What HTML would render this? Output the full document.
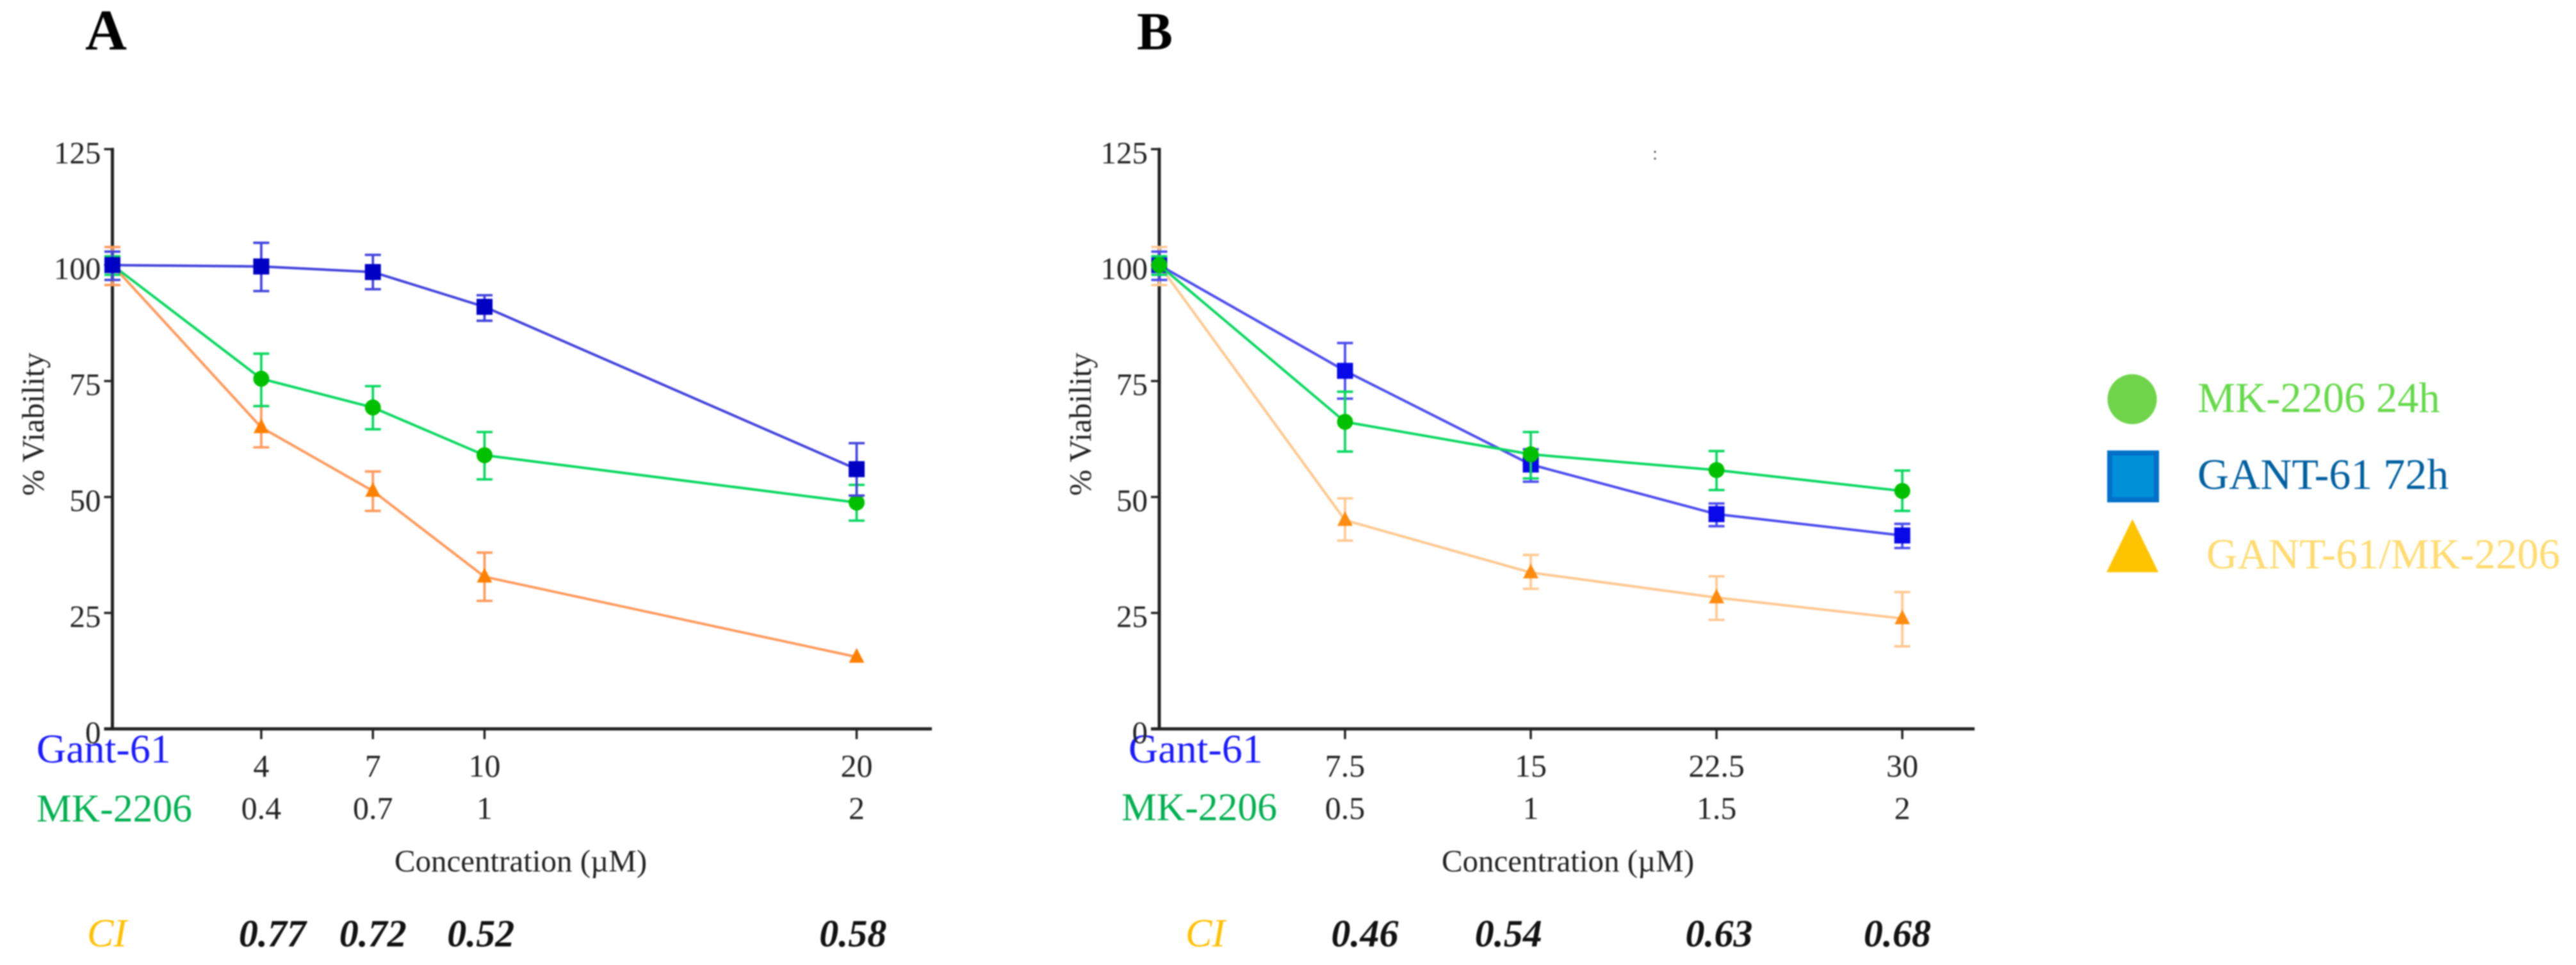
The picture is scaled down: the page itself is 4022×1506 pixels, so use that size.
<!DOCTYPE html>
<html lang="en">
<head>
<meta charset="utf-8">
<title>Viability charts</title>
<style>
html,body{margin:0;padding:0;background:#fff;width:4022px;height:1506px;overflow:hidden}
svg{display:block;filter:blur(1px)}
text{font-family:"Liberation Serif",serif;fill:#222}
</style>
</head>
<body>
<svg id="figure" xmlns="http://www.w3.org/2000/svg" width="4022" height="1506" viewBox="0 0 4022 1506">
  <rect x="0" y="0" width="4022" height="1506" fill="#fff"/>

  <text x="133" y="77" font-size="90" font-weight="bold" style="fill:#000">A</text>
  <text x="1775" y="77" font-size="84" font-weight="bold" style="fill:#000">B</text>

  <g>
    <text x="57" y="1190" font-size="64" style="fill:#1a1aff">Gant-61</text>
    <text x="57" y="1282" font-size="61.6" style="fill:#00b050">MK-2206</text>
    <text x="813" y="1360" font-size="49" text-anchor="middle">Concentration (µM)</text>
    <text transform="translate(68 662) rotate(-90)" font-size="49" text-anchor="middle">% Viability</text>
    <text x="136" y="1477" font-size="62" font-style="italic" style="fill:#ffc000">CI</text>
  </g>

  <g>
    <text x="1762" y="1190" font-size="64" style="fill:#1a1aff">Gant-61</text>
    <text x="1751" y="1280" font-size="61.6" style="fill:#00b050">MK-2206</text>
    <text x="2448" y="1360" font-size="49" text-anchor="middle">Concentration (µM)</text>
    <text transform="translate(1703 662) rotate(-90)" font-size="49" text-anchor="middle">% Viability</text>
    <text x="1851" y="1477" font-size="62" font-style="italic" style="fill:#ffc000">CI</text>
    <text x="2584" y="249" font-size="30" text-anchor="middle" style="fill:#666">:</text>
  </g>

  <g>
    <g>
      <ellipse cx="3329" cy="623" rx="38.5" ry="39" fill="#6fd44a"/>
      <text x="3431" y="643" font-size="66.5" style="fill:#66d94a">MK-2206 24h</text>
    </g>
    <g>
      <rect x="3294" y="707" width="73" height="73" fill="#0090d8" stroke="#0070c8" stroke-width="8"/>
      <text x="3431" y="763" font-size="68" style="fill:#0060a0">GANT-61 72h</text>
    </g>
    <g>
      <polygon points="3329.5,810 3370,893 3289,893" fill="#ffc400"/>
      <text x="3445" y="887" font-size="67" style="fill:#ffdb70">GANT-61/MK-2206</text>
    </g>
  </g>

  <g id="panel-a"></g>
  <g id="panel-b"></g>
</svg>

<script>
// Shared axis values
const yTickValues = [0, 25, 50, 75, 100, 125];

// Panel A data
const aDoses = [0, 4, 7, 10, 20];
const aGantLabels = ['4', '7', '10', '20'];
const aMkLabels = ['0.4', '0.7', '1', '2'];
const aCiValues = ['0.77', '0.72', '0.52', '0.58'];
const aCiDoses = [4.3, 7, 9.9, 19.9];
const aBlue = [100, 99.7, 98.5, 91, 56];
const aBlueHigh = [102.9, 104.8, 102.2, 93.5, 61.6];
const aBlueLow = [96.8, 94.4, 94.8, 88, 50.3];
const aGreen = [100, 75.5, 69.3, 59, 48.8];
const aGreenHigh = [101.9, 80.9, 73.9, 64, 52.6];
const aGreenLow = [97.9, 69.6, 64.6, 53.8, 44.9];
const aOrange = [100, 65, 51.3, 32.8, 15.5];
const aOrangeHigh = [103.9, 69.6, 55.5, 38, 15.5];
const aOrangeLow = [95.7, 60.7, 47, 27.6, 15.5];

// Panel B data
const bDoses = [0, 7.5, 15, 22.5, 30];
const bGantLabels = ['7.5', '15', '22.5', '30'];
const bMkLabels = ['0.5', '1', '1.5', '2'];
const bCiValues = ['0.46', '0.54', '0.63', '0.68'];
const bCiDoses = [8.3, 14.1, 22.6, 29.8];
const bBlue = [100, 77.2, 57, 46.3, 41.7];
const bBlueHigh = [102.9, 83.2, 60.3, 48.6, 44.2];
const bBlueLow = [96.8, 71.2, 53.3, 43.7, 39];
const bGreen = [100, 66.2, 59.2, 55.8, 51.3];
const bGreenHigh = [101.9, 72.7, 64, 59.9, 55.7];
const bGreenLow = [97.9, 59.8, 54, 51.5, 47];
const bOrange = [100, 45, 33.7, 28.3, 23.8];
const bOrangeHigh = [103.9, 49.7, 37.5, 32.9, 29.5];
const bOrangeLow = [95.7, 40.6, 30.2, 23.5, 17.8];

const NS = 'http://www.w3.org/2000/svg';

function mk(tag, attrs, parent) {
  const el = document.createElementNS(NS, tag);
  for (const k in attrs) el.setAttribute(k, attrs[k]);
  parent.appendChild(el);
  return el;
}

function yScale(v) {
  return 1137.5 - 7.238 * v;
}

function drawMarker(shape, x, y, color, parent) {
  if (shape === 'square') return mk('rect', {x: x - 12.5, y: y - 12.5, width: 25, height: 25, fill: color}, parent);
  if (shape === 'circle') return mk('circle', {cx: x, cy: y, r: 12.5, fill: color}, parent);
  return mk('polygon', {points: (x) + ',' + (y - 14) + ' ' + (x + 12) + ',' + (y + 9) + ' ' + (x - 12) + ',' + (y + 9), fill: color}, parent);
}

function drawSeries(root, prefix, s, xScale, doses) {
  const group = mk('g', {}, root);
  
  
  const pts = doses.map((d, i) => xScale(d) + ',' + yScale(s.values[i])).join(' ');
  const line = mk('polyline', {points: pts, fill: 'none', stroke: s.lineColor, 'stroke-width': 4}, group);
  
  
  doses.forEach((d, i) => {
    const x = xScale(d);
    const yHi = yScale(s.high[i]);
    const yLo = yScale(s.low[i]);
    if (s.high[i] !== s.low[i]) {
      const err = mk('path', {
        d: 'M' + (x - 12.5) + ' ' + yHi + 'H' + (x + 12.5) + 'M' + x + ' ' + yHi + 'V' + yLo + 'M' + (x - 12.5) + ' ' + yLo + 'H' + (x + 12.5),
        fill: 'none', stroke: s.lineColor, 'stroke-width': 3.8
      }, group);
      
      
    }
    const marker = drawMarker(s.shape, x, yScale(s.values[i]), s.markerColor, group);
    
    
  });
}

function drawPanel(p) {
  const root = document.getElementById(p.id);
  const xScale = d => p.x0 + p.unit * d;
  const axisStyle = {fill: 'none', stroke: '#222', 'stroke-width': 5};

  const yAxis = mk('line', Object.assign({x1: p.x0, x2: p.x0, y1: yScale(125) - 2, y2: yScale(0) + 2}, axisStyle), root);
  
  

  const xAxis = mk('line', Object.assign({x1: p.x0 - 13, x2: p.xEnd, y1: yScale(0), y2: yScale(0)}, axisStyle), root);
  
  

  yTickValues.forEach(v => {
    const tick = mk('line', {x1: p.x0 - 13, x2: p.x0, y1: yScale(v), y2: yScale(v), stroke: '#222', 'stroke-width': 3.5}, root);
    
    
    const label = mk('text', {x: p.x0 - 18, y: yScale(v) + 22, 'font-size': 49, 'text-anchor': 'end'}, root);
    label.textContent = String(v);
    
    
  });

  p.doses.slice(1).forEach((d, i) => {
    const x = xScale(d);
    const tick = mk('line', {x1: x, x2: x, y1: yScale(0), y2: yScale(0) + 16, stroke: '#222', 'stroke-width': 3.5}, root);
    
    
    const top = mk('text', {x: x, y: 1212, 'font-size': 50, 'text-anchor': 'middle'}, root);
    top.textContent = p.gantLabels[i];
    
    
    const bottom = mk('text', {x: x, y: 1278, 'font-size': 50, 'text-anchor': 'middle'}, root);
    bottom.textContent = p.mkLabels[i];
    
    
    const ci = mk('text', {x: xScale(p.ciDoses[i]), y: 1477, 'font-size': 60, 'font-weight': 'bold', 'font-style': 'italic', 'text-anchor': 'middle', style: 'fill:#111'}, root);
    ci.textContent = p.ciValues[i];
    
    
  });

  p.series.forEach(s => drawSeries(root, p.prefix, s, xScale, p.doses));
}

drawPanel({
  id: 'panel-a', prefix: 'panel-a', x0: 175.5, unit: 58.1, xEnd: 1455,
  doses: aDoses, gantLabels: aGantLabels, mkLabels: aMkLabels, ciValues: aCiValues, ciDoses: aCiDoses,
  series: [
    {name: 'combination', shape: 'triangle', values: aOrange, high: aOrangeHigh, low: aOrangeLow, lineColor: '#ff9a5c', markerColor: '#ff8000'},
    {name: 'mk-2206', shape: 'circle', values: aGreen, high: aGreenHigh, low: aGreenLow, lineColor: '#08d860', markerColor: '#00c000'},
    {name: 'gant-61', shape: 'square', values: aBlue, high: aBlueHigh, low: aBlueLow, lineColor: '#4444dd', markerColor: '#0000c4'}
  ]
});

drawPanel({
  id: 'panel-b', prefix: 'panel-b', x0: 1810, unit: 38.67, xEnd: 3083,
  doses: bDoses, gantLabels: bGantLabels, mkLabels: bMkLabels, ciValues: bCiValues, ciDoses: bCiDoses,
  series: [
    {name: 'combination', shape: 'triangle', values: bOrange, high: bOrangeHigh, low: bOrangeLow, lineColor: '#ffc890', markerColor: '#ff8c10'},
    {name: 'gant-61', shape: 'square', values: bBlue, high: bBlueHigh, low: bBlueLow, lineColor: '#4c4cee', markerColor: '#0808e8'},
    {name: 'mk-2206', shape: 'circle', values: bGreen, high: bGreenHigh, low: bGreenLow, lineColor: '#08d860', markerColor: '#00c000'}
  ]
});
</script>
</body>
</html>
